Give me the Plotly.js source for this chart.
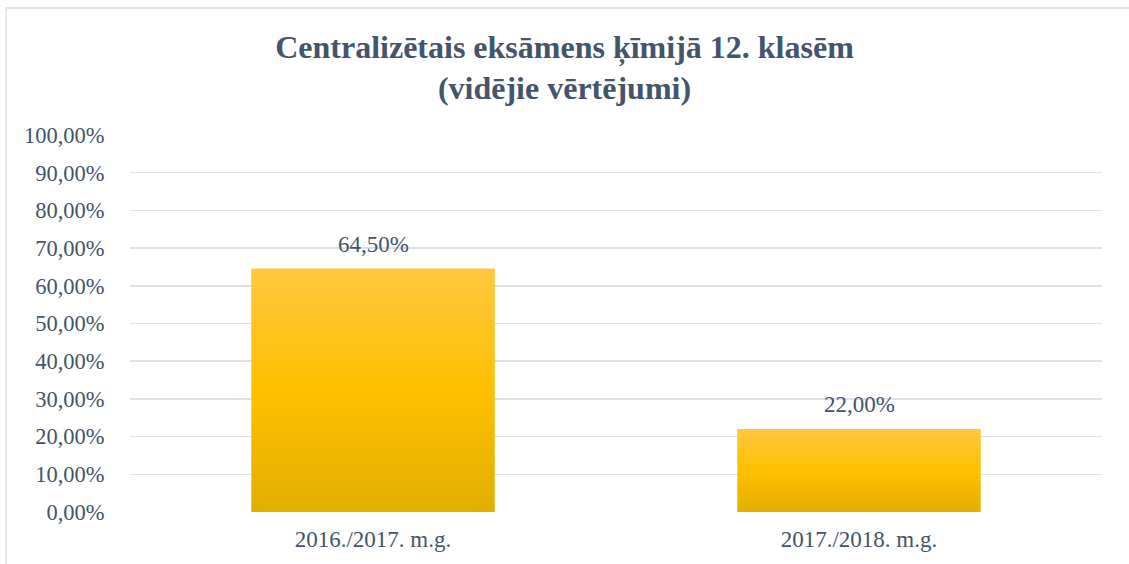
<!DOCTYPE html>
<html>
<head>
<meta charset="utf-8">
<script src="https://cdn.plot.ly/plotly-3.0.1.min.js"></script>
<style>html,body{margin:0;padding:0;background:#fff;}#chart{width:1129px;height:564px;}</style>
</head>
<body>
<div id="chart"></div>
<script>
const categories = ["2016./2017. m.g.", "2017./2018. m.g."];
const values = [64.5, 22.0];
const valueLabels = ["64,50%", "22,00%"];
const tickValues = [0, 10, 20, 30, 40, 50, 60, 70, 80, 90, 100];
const tickLabels = ["0,00%", "10,00%", "20,00%", "30,00%", "40,00%", "50,00%", "60,00%", "70,00%", "80,00%", "90,00%", "100,00%"];

const textColor = "#44546A";
const font = "Liberation Serif";
const barWidth = 0.5;
const idx = categories.map((c, i) => i);

const traces = [{
  type: "bar",
  x: idx,
  y: values,
  width: barWidth,
  marker: {color: "#FFC000", line: {width: 0}},
  hoverinfo: "skip",
  showlegend: false
}];

idx.forEach((i) => {
  const x0 = i - barWidth / 2, x1 = i + barWidth / 2;
  traces.push({
    type: "scatter",
    mode: "none",
    x: [x0, x1, x1, x0, x0],
    y: [0, 0, values[i], values[i], 0],
    fill: "toself",
    fillgradient: {
      type: "vertical",
      colorscale: [[0, "#E2AF00"], [0.5, "#FFC000"], [1, "#FFC740"]]
    },
    hoverinfo: "skip",
    showlegend: false
  });
});

const layout = {
  width: 1129,
  height: 564,
  margin: {l: 130, r: 27, t: 135, b: 52},
  paper_bgcolor: "#fff",
  plot_bgcolor: "#fff",
  font: {family: font, color: textColor, size: 23},
  title: {
    text: "<b>Centralizētais eksāmens ķīmijā 12. klasēm<br>(vidējie vērtējumi)</b>",
    font: {family: font, size: 32, color: textColor},
    x: 0.5, xanchor: "center",
    y: 0.898, yanchor: "middle"
  },
  showlegend: false,
  xaxis: {
    range: [-0.5, categories.length - 0.5],
    tickvals: idx,
    ticktext: categories,
    showgrid: false,
    zeroline: false,
    showline: false,
    ticks: "outside",
    ticklen: 6,
    tickcolor: "rgba(0,0,0,0)",
    tickfont: {family: font, size: 23, color: textColor},
    fixedrange: true
  },
  yaxis: {
    range: [0, 100],
    tickvals: tickValues,
    ticktext: tickLabels,
    showgrid: true,
    gridcolor: "#DDE1E8",
    gridwidth: 1.5,
    zeroline: false,
    showline: false,
    ticks: "outside",
    ticklen: 20,
    tickcolor: "rgba(0,0,0,0)",
    tickfont: {family: font, size: 22.5, color: textColor},
    fixedrange: true
  },
  annotations: idx.map((i) => ({
    x: i,
    y: values[i],
    xref: "x",
    yref: "y",
    text: valueLabels[i],
    showarrow: false,
    yanchor: "bottom",
    yshift: 10,
    font: {family: font, size: 23, color: textColor}
  })),
  shapes: [{
    type: "rect",
    xref: "paper", yref: "paper",
    x0: -0.1276, x1: 1.04,
    y0: -0.16, y1: 1.3369,
    line: {color: "#D9DEE6", width: 1.3},
    fillcolor: "rgba(0,0,0,0)",
    layer: "below"
  }]
};

Plotly.newPlot("chart", traces, layout, {displayModeBar: false, staticPlot: true});
</script>
</body>
</html>
